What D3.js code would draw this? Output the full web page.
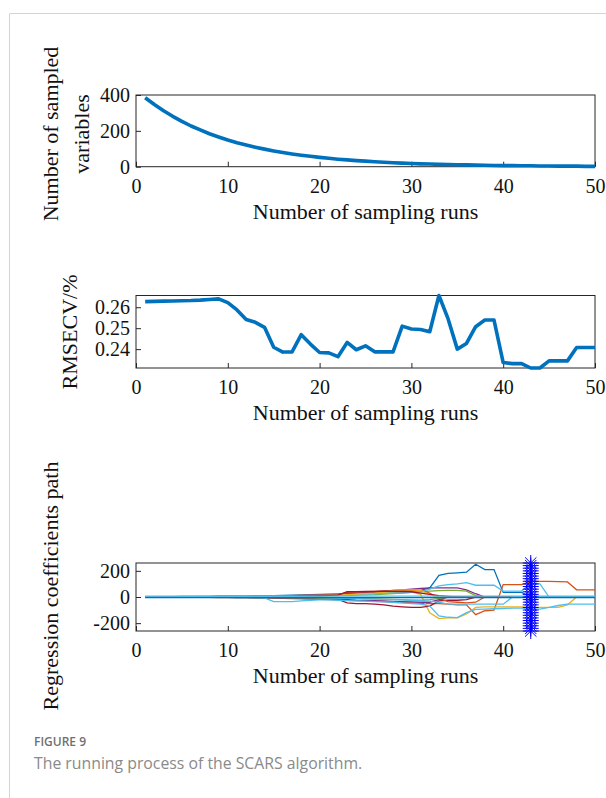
<!DOCTYPE html>
<html>
<head>
<meta charset="utf-8">
<script src="https://cdn.jsdelivr.net/npm/d3@7"></script>
<style>
body { margin: 0; background: #fff; }
svg { display: block; }
</style>
</head>
<body>
<script>
// ---- data ----
let runs = [1,2,3,4,5,6,7,8,9,10, 11,12,13,14,15,16,17,18,19,20, 21,22,23,24,25,26,27,28,29,30,
	31,32,33,34,35,36,37,38,39,40, 41,42,43,44,45,46,47,48,49,50];
let xTicks = [0, 10, 20, 30, 40, 50];

// panel 1: number of sampled variables
let sampledVars = [385,347,312,281,253,227,205,184,166,149, 134,121,109,98,88,79,71,64,58,52,
	47,42,38,34,31,28,25,22,20,18, 16,15,13,12,11,10,9,8,7,6, 6,5,5,4,4,3,3,3,2,2];
let varTicks = [0, 200, 400];

// panel 2: RMSECV
let rmsecv = [0.2627,0.2628,0.2629,0.2630,0.2631,0.2632,0.2634,0.2637,0.2640,0.2622,
	0.2587,0.2541,0.2528,0.2504,0.2409,0.2386,0.2387,0.2469,0.2424,0.2384,
	0.2382,0.2364,0.2432,0.2397,0.2416,0.2387,0.2387,0.2387,0.2510,0.2496,
	0.2494,0.2483,0.2656,0.2544,0.2400,0.2427,0.2507,0.2539,0.2539,0.2336,
	0.2331,0.2331,0.2310,0.2310,0.2344,0.2344,0.2344,0.2408,0.2408,0.2408];
let rmseTicks = [0.24, 0.25, 0.26];

// panel 3: regression coefficient paths
let coefBlue = [2,2,3,3,4,4,5,5,6,6, 7,8,9,10,11,12,14,16,18,20, 22,24,26,28,30,32,34,36,40,45,
	50,70,165,180,185,190,250,210,210,35, 35,35,0,0,0,0,0,0,0,0];
let coefRedA = [-1,-1,-2,-2,-2,-3,-3,-3,-4,-4, -5,-5,-6,-7,-8,-10,-12,-14,-16,-18, -20,-22,-25,-28,-30,-33,-36,-40,-42,-45,
	-48,-50,-50,-55,-60,-60,-135,-105,-100,95, 95,95,120,120,120,118,115,55,55,55];
let coefYellowA = [2,2,2,3,3,3,4,4,5,5, 6,6,7,8,9,10,11,12,14,16, 18,20,25,28,30,32,35,38,40,40,
	20,-120,-165,-160,-160,-130,-80,-75,-75,-75, -75,-75,-80,-80,-80,-80,-60,0,0,0];
let coefPurpleA = [1,1,2,2,2,3,3,3,4,4, 5,5,6,7,8,9,10,12,14,16, 18,20,25,30,35,40,45,50,55,60,
	65,70,70,70,70,55,25,0,0,0, 0,0,0,0,0,0,0,0,0,0];
let coefGreenA = [0,0,0,1,1,1,1,2,2,2, 2,3,3,3,4,4,5,5,6,7, 8,10,12,14,16,18,22,26,30,35,
	40,45,48,50,50,45,10,0,0,0, 0,0,0,0,0,0,0,0,0,0];
let coefCyanA = [1,1,1,2,2,2,3,3,3,4, 4,5,5,6,6,7,8,9,10,12, 14,16,18,20,22,25,28,30,32,35,
	40,60,85,95,100,110,90,90,90,45, 45,45,105,100,0,0,0,0,0,0];
let coefMaroonA = [-1,-1,-1,-2,-2,-2,-2,-3,-3,-3, -4,-4,-5,-5,-6,-7,-8,-10,-12,-14, -16,-18,-45,-50,-50,-55,-60,-70,-75,-80,
	-80,-70,-30,-25,-25,-20,0,0,0,0, 0,0,0,0,0,0,0,0,0,0];
let coefRedB = [0,0,1,1,1,1,2,2,2,2, 3,3,4,4,5,6,7,8,10,12, 14,16,35,38,40,42,44,45,48,50,
	50,30,-10,-35,-40,-45,-40,0,0,0, 0,0,0,0,0,0,0,0,0,0];
let coefYellowB = [0,1,1,1,1,2,2,2,2,3, 3,4,4,5,5,6,7,8,9,10, 12,14,18,22,26,30,40,50,55,55,
	50,20,0,0,0,0,0,0,0,0, 0,0,0,0,0,0,0,0,0,0];
let coefPurpleB = [0,0,-1,-1,-1,-1,-2,-2,-2,-2, -3,-3,-4,-4,-5,-6,-7,-8,-10,-12, -14,-16,-20,-24,-26,-28,-30,-33,-35,-38,
	-40,-40,-20,0,0,0,0,0,0,0, 0,0,0,0,0,0,0,0,0,0];
let coefGreenB = [-1,-1,-1,-1,-2,-2,-2,-2,-3,-3, -3,-3,-4,-4,-5,-5,-6,-6,-7,-8, -8,-9,-10,-10,-12,-14,-16,-18,-20,-25,
	-25,-20,-10,0,0,0,0,0,0,0, 0,0,0,0,0,0,0,0,0,0];
let coefCyanB = [0,0,-1,-1,-1,-2,-2,-2,-3,-3, -4,-4,-5,-6,-35,-35,-35,-30,-25,-22, -22,-25,-28,-30,-32,-35,-38,-40,-45,-50,
	-55,-70,-145,-155,-158,-120,-95,-92,-90,-88, -85,-85,-90,-92,-80,-65,-55,-55,-55,-55];
let coefCyanC = [1,1,1,1,2,2,2,2,3,3, 3,4,4,4,5,4,2,0,-2,-4, -6,-8,-10,-12,-14,-16,-18,-20,-22,-25,
	-28,-32,-40,-55,-55,-55,-55,-55,-55,-55, 0,0,0,0,0,0,0,0,0,0];
let coefMaroonB = [1,1,1,1,2,2,2,2,2,3, 3,3,4,4,5,6,7,8,9,10, 12,14,40,40,42,42,44,44,42,40,
	30,20,10,5,0,0,0,0,0,0, 0,0,0,0,0,0,0,0,0,0];
let coefZeroA = [6,6,6,6,6,6,6,6,6,6, 6,6,6,6,6,6,6,6,6,6, 6,6,6,6,6,6,6,6,6,6,
	6,6,6,6,6,6,6,6,6,6, 6,6,6,6,6,6,6,6,6,6];
let coefZeroB = [-5,-5,-5,-5,-5,-5,-5,-5,-5,-5, -5,-5,-5,-5,-5,-5,-5,-5,-5,-5, -5,-5,-5,-5,-5,-5,-5,-5,-5,-5,
	-5,-5,-5,-5,-5,-5,-5,-5,-5,-5, -5,-5,-5,-5,-5,-5,-5,-5,-5,-5];
let coefTicks = [-200, 0, 200];

// optimal run marked with a starred line
let bestRun = 43;
let starY = [-260,-240,-220,-200,-180,-160,-140,-120,-100,-80,-60,-40,-20,0,
	20,40,60,80,100,120,140,160,180,200,220,240,260];

// matlab default colours, in plotting order
let coefSeries = [
	{values: coefBlue, color: "#0072BD"},
	{values: coefRedA, color: "#D95319"},
	{values: coefYellowA, color: "#EDB120"},
	{values: coefPurpleA, color: "#7E2F8E"},
	{values: coefGreenA, color: "#77AC30"},
	{values: coefCyanA, color: "#4DBEEE"},
	{values: coefMaroonA, color: "#A2142F"},
	{values: coefRedB, color: "#D95319"},
	{values: coefYellowB, color: "#EDB120"},
	{values: coefPurpleB, color: "#7E2F8E"},
	{values: coefGreenB, color: "#77AC30"},
	{values: coefCyanB, color: "#4DBEEE"},
	{values: coefMaroonB, color: "#A2142F"},
	{values: coefCyanC, color: "#4DBEEE"},
	{values: coefZeroA, color: "#4DBEEE"},
	{values: coefZeroB, color: "#0072BD"}
];

// ---- layout ----
let svg = d3.select("body").append("svg")
	.attr("width", 606)
	.attr("height", 798);

let serif = "'Liberation Serif', 'Times New Roman', serif";
let left = 136, right = 595;
let axisColor = "#262626";
let plainInt = d => String(d); //matlab prints a plain hyphen for negatives

//card frame (left and top border)
svg.append("path")
	.attr("d", "M9.5,798 L9.5,13.5 L606,13.5")
	.attr("fill", "none")
	.attr("stroke", "#d4d4d4")
	.attr("stroke-width", 1);

let x = d3.scaleLinear().domain([0, 50]).range([left, right]);

//draws the box, ticks and labels of one panel
function drawPanel(top, bottom, yDomain, yTicks, yFormat) {
	let y = d3.scaleLinear().domain(yDomain).range([bottom, top]);
	let g = svg.append("g");

	let xAxis = d3.axisBottom(x)
		.tickValues(xTicks)
		.tickSizeInner(-5)
		.tickSizeOuter(0)
		.tickPadding(12)
		.tickFormat(plainInt);

	let yAxis = d3.axisLeft(y)
		.tickValues(yTicks)
		.tickSizeInner(-5)
		.tickSizeOuter(0)
		.tickPadding(6)
		.tickFormat(yFormat);

	let xG = g.append("g")
		.attr("transform", `translate(0, ${bottom})`)
		.call(xAxis);
	let yG = g.append("g")
		.attr("transform", `translate(${left}, 0)`)
		.call(yAxis);

	[xG, yG].forEach(a => {
		a.attr("font-family", serif).attr("font-size", 20);
		a.select(".domain").remove();
		a.selectAll("line").attr("stroke", axisColor);
		a.selectAll("text").attr("fill", "#111");
	});

	g.append("rect") //the axes box
		.attr("x", left)
		.attr("y", top)
		.attr("width", right - left)
		.attr("height", bottom - top)
		.attr("fill", "none")
		.attr("stroke", axisColor)
		.attr("stroke-width", 1);

	g.append("text") //x axis title
		.attr("x", (left + right) / 2)
		.attr("y", bottom + 52)
		.attr("text-anchor", "middle")
		.attr("font-family", serif)
		.attr("font-size", 22)
		.attr("fill", "#111")
		.text("Number of sampling runs");

	return y;
}

function yTitle(lines, xBase, cy) {
	lines.forEach((t, i) => {
		svg.append("text")
			.attr("transform", `translate(${xBase + i * 30.5}, ${cy}) rotate(-90)`)
			.attr("text-anchor", "middle")
			.attr("font-family", serif)
			.attr("font-size", 22)
			.attr("fill", "#111")
			.text(t);
	});
}

// ---- panel 1 ----
let y1 = drawPanel(95, 166.7, [0, 400], varTicks, plainInt);
svg.append("path")
	.datum(runs)
	.attr("fill", "none")
	.attr("stroke", "#0072BD")
	.attr("stroke-width", 3.6)
	.attr("stroke-linejoin", "round")
	.attr("d", d3.line().x(d => x(d)).y((d, i) => y1(sampledVars[i])));
yTitle(["Number of sampled", "variables"], 58, 134);

// ---- panel 2 ----
let y2 = drawPanel(295.5, 368, d3.extent(rmsecv), rmseTicks, d3.format(".2f"));
svg.append("path")
	.datum(runs)
	.attr("fill", "none")
	.attr("stroke", "#0072BD")
	.attr("stroke-width", 3.6)
	.attr("stroke-linejoin", "round")
	.attr("d", d3.line().x(d => x(d)).y((d, i) => y2(rmsecv[i])));
yTitle(["RMSECV/%"], 77, 332);

// ---- panel 3 ----
let y3 = drawPanel(563, 631, [-260, 260], coefTicks, plainInt);
coefSeries.forEach(s => {
	svg.append("path")
		.datum(runs)
		.attr("fill", "none")
		.attr("stroke", s.color)
		.attr("stroke-width", 1.3)
		.attr("d", d3.line().x(d => x(d)).y((d, i) => y3(s.values[i])));
});

//starred vertical line at the optimal run
let star = "M-8,0L8,0M0,-8L0,8M-5.7,-5.7L5.7,5.7M-5.7,5.7L5.7,-5.7";
svg.append("line")
	.attr("x1", x(bestRun)).attr("x2", x(bestRun))
	.attr("y1", y3(d3.min(starY))).attr("y2", y3(d3.max(starY)))
	.attr("stroke", "#0000FF")
	.attr("stroke-width", 1.5);
svg.append("g").selectAll("path")
	.data(starY)
	.join("path")
	.attr("transform", d => `translate(${x(bestRun)}, ${y3(d)})`)
	.attr("d", star)
	.attr("fill", "none")
	.attr("stroke", "#0000FF")
	.attr("stroke-width", 1);
yTitle(["Regression coefficients path"], 58, 586);

// ---- caption ----
svg.append("text")
	.attr("x", 34)
	.attr("y", 746)
	.attr("font-family", "'Open Sans', sans-serif")
	.attr("font-size", 12)
	.attr("font-weight", 600)
	.attr("fill", "#707070")
	.text("FIGURE 9");
svg.append("text")
	.attr("x", 34)
	.attr("y", 769)
	.attr("font-family", "'Open Sans', sans-serif")
	.attr("font-size", 15.8)
	.attr("fill", "#8a8a8a")
	.text("The running process of the SCARS algorithm.");
</script>
</body>
</html>
